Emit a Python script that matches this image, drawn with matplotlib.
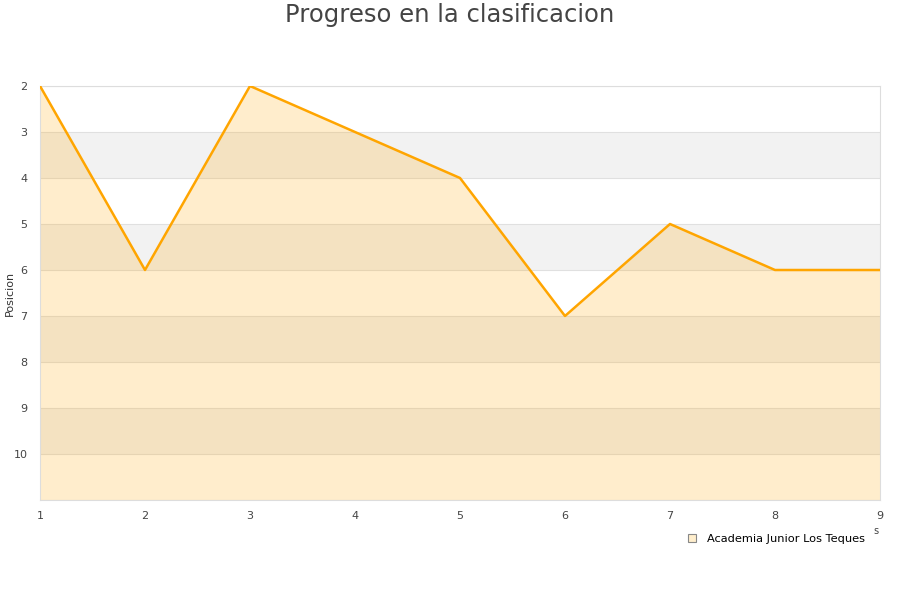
import matplotlib
matplotlib.use("Agg")
import matplotlib.pyplot as plt
from matplotlib.lines import Line2D

# jornada vs posicion
jornadas = [1, 2, 3, 4, 5, 6, 7, 8, 9]
posicion = [2, 6, 2, 3, 4, 7, 5, 6, 6]
equipo = "Academia Junior Los Teques"
y_ticks = [2, 3, 4, 5, 6, 7, 8, 9, 10]

fig = plt.figure(figsize=(9, 6), dpi=100)
ax = fig.add_axes([40 / 900, 100 / 600, 840 / 900, 414 / 600])

# alternating bands
for lo in [3, 5, 7, 9]:
    ax.axhspan(lo, lo + 1, color="#f2f2f2", zorder=0, lw=0)
for y in range(2, 12):
    ax.axhline(y, color="#e0e0e0", lw=0.8, zorder=1)

ax.fill_between(jornadas, posicion, 11, color="orange", alpha=0.2, lw=0, zorder=2)
ax.plot(jornadas, posicion, color="orange", lw=1.8, zorder=3)

ax.set_xlim(1, 9)
ax.set_ylim(11, 2)
ax.set_yticks(y_ticks)
ax.set_xticks(jornadas)
ax.tick_params(length=0, labelsize=8, colors="#444444", pad=8)
ax.tick_params(axis="y", pad=9)
for s in ax.spines.values():
    s.set_color("#dddddd")
ax.set_ylabel("Posicion", fontsize=8, color="#333333")
ax.yaxis.set_label_coords(-25 / 840, 0.5)

fig.text(0.5, 1 - 15 / 600, "Progreso en la clasificacion", ha="center", va="center",
         fontsize=17.5, color="#444444")
fig.text(876 / 900, 1 - 531 / 600, "s", ha="center", va="center", fontsize=7, color="#444444")

handle = Line2D([], [], marker="s", ls="", markersize=6, markerfacecolor="#ffeecc",
                markeredgecolor="#888888", markeredgewidth=0.8)
fig.legend([handle], [equipo], loc="center left", bbox_to_anchor=(676 / 900, 1 - 539 / 600),
           frameon=False, fontsize=8.2, handletextpad=0.3, borderaxespad=0)

fig.savefig("out.png", dpi=100)
